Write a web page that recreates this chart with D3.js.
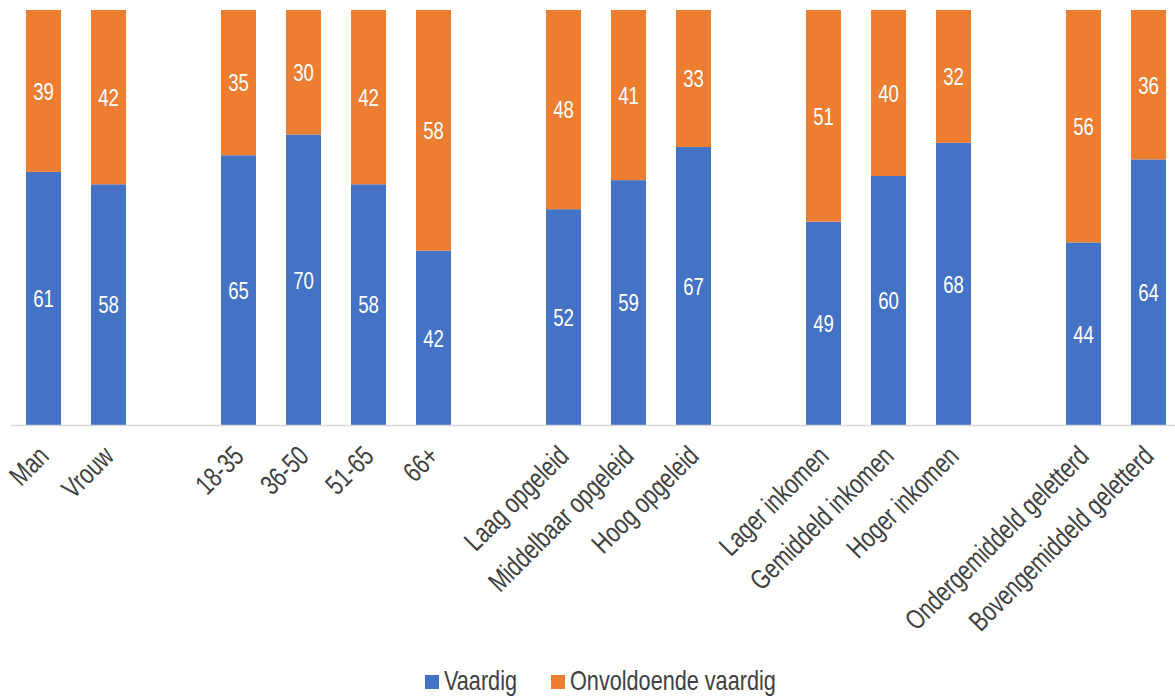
<!DOCTYPE html>
<html>
<head>
<meta charset="utf-8">
<script src="https://cdn.jsdelivr.net/npm/d3@7"></script>
<style>
  body { margin: 0; background: #fff; }
  svg { font-family: "Liberation Sans", Arial, sans-serif; }
</style>
</head>
<body>
<svg width="1175" height="697"></svg>
<script>
let width = 1175,
  height = 697;

// categories, blank slots ("") separate the groups
let categories = ["Man", "Vrouw", "",
  "18-35", "36-50", "51-65", "66+", "",
  "Laag opgeleid", "Middelbaar opgeleid", "Hoog opgeleid", "",
  "Lager inkomen", "Gemiddeld inkomen", "Hoger inkomen", "",
  "Ondergemiddeld geletterd", "Bovengemiddeld geletterd"];
let vaardig = [61, 58, null, 65, 70, 58, 42, null, 52, 59, 67, null, 49, 60, 68, null, 44, 64];
let onvoldoende = [39, 42, null, 35, 30, 42, 58, null, 48, 41, 33, null, 51, 40, 32, null, 56, 36];
let seriesNames = ["Vaardig", "Onvoldoende vaardig"];
let colors = ["#4472C4", "#ED7D31"];

// narrow look (Arial Narrow is not available)
let squeeze = 0.76;

let svg = d3.select("svg");

let slots = categories.map((c, i) => i);
let x = d3.scaleBand().domain(slots).range([11, 1181]).paddingInner(30 / 65).paddingOuter(15 / 65);
let y = d3.scaleLinear().domain([0, 100]).range([425, 10]);

let rows = slots.filter(i => vaardig[i] != null).map(i => ({
  i: i, name: categories[i], v: vaardig[i], o: onvoldoende[i]
}));

let stack = d3.stack().keys(["v", "o"])(rows);

let g = svg.append("g");
stack.forEach((layer, k) => {
  g.selectAll(null)
    .data(layer)
    .enter()
    .append("rect")
    .attr("x", d => x(d.data.i))
    .attr("width", x.bandwidth())
    .attr("y", d => y(d[1]))
    .attr("height", d => y(d[0]) - y(d[1]))
    .attr("fill", colors[k]);

  g.selectAll(null)
    .data(layer)
    .enter()
    .append("text")
    .attr("transform", d => "translate(" + (x(d.data.i) + x.bandwidth() / 2) + "," +
      ((y(d[0]) + y(d[1])) / 2) + ") scale(" + squeeze + ",1)")
    .attr("dy", "0.36em")
    .attr("text-anchor", "middle")
    .attr("fill", "#fff")
    .style("font-size", "24.5px")
    .text(d => d[1] - d[0]);
});

// axis line
svg.append("line")
  .attr("x1", 11).attr("x2", 1175)
  .attr("y1", 425.5).attr("y2", 425.5)
  .attr("stroke", "#d9d9d9")
  .attr("stroke-width", 1.5);

// category labels
svg.append("g")
  .selectAll("text")
  .data(rows)
  .enter()
  .append("text")
  .attr("transform", d => "translate(" + (x(d.i) + x.bandwidth() / 2 - 7) + ",444) rotate(-45) scale(" + squeeze + ",1)")
  .attr("text-anchor", "end")
  .attr("dy", "0.7em")
  .attr("fill", "#404040")
  .style("font-size", "28px")
  .text(d => d.name);

// legend
let legend = svg.append("g").attr("transform", "translate(425,675)");
let lx = [0, 126];
seriesNames.forEach((s, k) => {
  legend.append("rect")
    .attr("x", lx[k]).attr("y", 0)
    .attr("width", 14).attr("height", 14)
    .attr("fill", colors[k]);
  legend.append("text")
    .attr("transform", "translate(" + (lx[k] + 19) + ",15) scale(" + squeeze + ",1)")
    .attr("fill", "#404040")
    .style("font-size", "28.5px")
    .text(s);
});
</script>
</body>
</html>
